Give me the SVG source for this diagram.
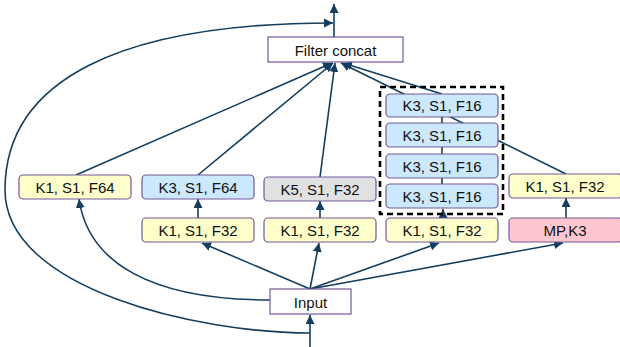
<svg xmlns="http://www.w3.org/2000/svg" width="620" height="347" viewBox="0 0 620 347">
  <style>
    .conn { fill: none; stroke: #143d5e; stroke-width: 1.6; }
    .arr { marker-end: url(#head); }
    .box { stroke: #72589a; stroke-width: 1.2; }
    .plain { fill: #ffffff; }
    .yellow { fill: #ffffcc; }
    .blue { fill: #cce8fc; }
    .grey { fill: #e1e1e1; }
    .pink { fill: #ffc6d0; }
    .lbl { font-family: "Liberation Sans", Arial, sans-serif; font-size: 15px; fill: #111111; text-anchor: middle; dominant-baseline: central; }
    .group { fill: none; stroke: #000000; stroke-width: 2.6; stroke-dasharray: 6 4; }
  </style>
  <defs>
    <marker id="head" viewBox="0 0 10 10" refX="10" refY="5" markerUnits="userSpaceOnUse" markerWidth="9" markerHeight="9" orient="auto">
      <path d="M0,0 L10,5 L0,10 z" fill="#143d5e"/>
    </marker>
  </defs>

  <rect width="620" height="347" fill="#ffffff"/>

  <!-- connectors -->
  <g id="connectors">
    <!-- output of the block -->
    <line class="conn arr" x1="334" y1="37" x2="334" y2="4"/>
    <!-- residual path around the block -->
    <path class="conn arr" d="M310,333 C200,333 5,290 5,190 C5,80 120,23 333,23"/>
    <!-- input feeds -->
    <line class="conn" x1="310" y1="347" x2="310" y2="333"/>
    <line class="conn arr" x1="310" y1="333" x2="310" y2="315"/>
    <path class="conn arr" d="M270,300 C150,300 88,262 79,199"/>
    <line class="conn arr" x1="310" y1="289" x2="202" y2="243"/>
    <line class="conn arr" x1="310" y1="289" x2="319" y2="243"/>
    <line class="conn arr" x1="310" y1="289" x2="439" y2="243"/>
    <line class="conn arr" x1="310" y1="289" x2="563" y2="243"/>
    <!-- inner branch steps -->
    <line class="conn arr" x1="198" y1="218" x2="198" y2="199"/>
    <line class="conn arr" x1="320" y1="218" x2="320" y2="201"/>
    <line class="conn arr" x1="566" y1="218" x2="566" y2="198"/>
    <line class="conn arr" x1="443" y1="218" x2="443" y2="209"/>
    <line class="conn" x1="442" y1="117" x2="442" y2="123"/>
    <line class="conn" x1="442" y1="147" x2="442" y2="154"/>
    <line class="conn" x1="442" y1="178" x2="442" y2="184"/>
    <!-- branches into the concat -->
    <line class="conn arr" x1="76" y1="175" x2="332" y2="63"/>
    <line class="conn arr" x1="198" y1="175" x2="333" y2="63"/>
    <line class="conn arr" x1="320" y1="177" x2="335" y2="63"/>
    <line class="conn arr" x1="566" y1="174" x2="341" y2="63"/>
    <line class="conn arr" x1="442" y1="94" x2="343" y2="63"/>
  </g>

  <!-- nodes -->
  <g id="filter-concat">
    <rect class="box plain" x="268" y="37" width="135" height="25"/>
    <text class="lbl" x="335.5" y="50">Filter concat</text>
  </g>
  <g id="input">
    <rect class="box plain" x="270" y="289" width="81" height="25"/>
    <text class="lbl" x="310.5" y="302">Input</text>
  </g>

  <g id="b1-k1">
    <rect class="box yellow" x="19" y="175" width="112" height="24" rx="4"/>
    <text class="lbl" x="75" y="187">K1, S1, F64</text>
  </g>

  <g id="b2-k1">
    <rect class="box yellow" x="142" y="218" width="112" height="24" rx="4"/>
    <text class="lbl" x="198" y="230">K1, S1, F32</text>
  </g>
  <g id="b2-k3">
    <rect class="box blue" x="142" y="175" width="112" height="24" rx="4"/>
    <text class="lbl" x="198" y="187">K3, S1, F64</text>
  </g>

  <g id="b3-k1">
    <rect class="box yellow" x="264" y="218" width="112" height="24" rx="4"/>
    <text class="lbl" x="320" y="230">K1, S1, F32</text>
  </g>
  <g id="b3-k5">
    <rect class="box grey" x="264" y="177" width="112" height="24" rx="4"/>
    <text class="lbl" x="320" y="189">K5, S1, F32</text>
  </g>

  <g id="b4-k1">
    <rect class="box yellow" x="386" y="218" width="112" height="24" rx="4"/>
    <text class="lbl" x="442" y="230">K1, S1, F32</text>
  </g>
  <g id="b4-stack">
    <rect class="group" x="380" y="87" width="123" height="127"/>
    <g id="b4-k3-1">
      <rect class="box blue" x="386" y="94" width="112" height="23" rx="4"/>
      <text class="lbl" x="442" y="105.5">K3, S1, F16</text>
    </g>
    <g id="b4-k3-2">
      <rect class="box blue" x="386" y="123" width="112" height="24" rx="4"/>
      <text class="lbl" x="442" y="135">K3, S1, F16</text>
    </g>
    <g id="b4-k3-3">
      <rect class="box blue" x="386" y="154" width="112" height="24" rx="4"/>
      <text class="lbl" x="442" y="166">K3, S1, F16</text>
    </g>
    <g id="b4-k3-4">
      <rect class="box blue" x="386" y="184" width="112" height="24" rx="4"/>
      <text class="lbl" x="442" y="196">K3, S1, F16</text>
    </g>
  </g>

  <g id="b5-pool">
    <rect class="box pink" x="509" y="218" width="113" height="24" rx="4"/>
    <text class="lbl" x="565" y="230">MP,K3</text>
  </g>
  <g id="b5-k1">
    <rect class="box yellow" x="509" y="174" width="113" height="24" rx="4"/>
    <text class="lbl" x="565" y="186">K1, S1, F32</text>
  </g>
</svg>
